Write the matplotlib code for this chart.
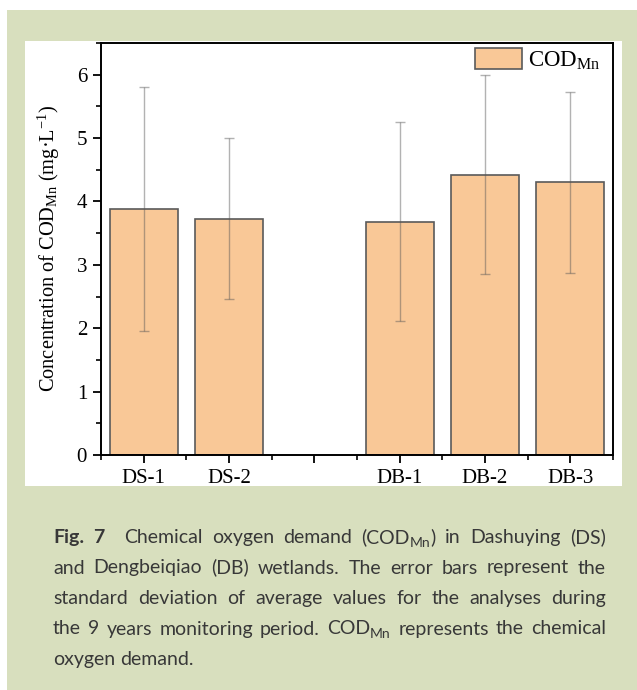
import matplotlib
matplotlib.use("Agg")
import matplotlib.pyplot as plt
from matplotlib.patches import Rectangle
from matplotlib.ticker import MultipleLocator, FixedLocator

# ---------------- data ----------------
sites = ["DS-1", "DS-2", "DB-1", "DB-2", "DB-3"]
positions = [1, 2, 4, 5, 6]
cod_mean = [3.88, 3.73, 3.68, 4.42, 4.30]
cod_sd = [1.93, 1.27, 1.57, 1.57, 1.43]
tick_positions = [1, 2, 3, 4, 5, 6]
tick_labels = ["DS-1", "DS-2", "", "DB-1", "DB-2", "DB-3"]

W, H = 637, 690
plt.rcParams["mathtext.fontset"] = "custom"
plt.rcParams["mathtext.rm"] = "Liberation Serif"
plt.rcParams["mathtext.it"] = "Liberation Serif:italic"
plt.rcParams["mathtext.bf"] = "Liberation Serif:bold"
plt.rcParams["font.family"] = ["Liberation Serif", "DejaVu Serif"]

fig = plt.figure(figsize=(W / 100, H / 100), dpi=100)
fig.patch.set_facecolor("white")


def fx(x):
    return x / W


def fy(y):
    return 1 - y / H


# green panel
fig.patches.append(Rectangle((fx(7), 0), 1 - fx(7), fy(10), transform=fig.transFigure,
                             facecolor="#d8dfbe", edgecolor="none", zorder=0))
# white chart area
fig.patches.append(Rectangle((fx(25), fy(486)), fx(622) - fx(25), fy(41) - fy(486),
                             transform=fig.transFigure, facecolor="white",
                             edgecolor="none", zorder=1))

ax = fig.add_axes([fx(101), fy(455), fx(613) - fx(101), fy(43) - fy(455)])
ax.set_zorder(2)
ax.set_facecolor("white")

ax.bar(positions, cod_mean, width=0.8, color="#f9c897", edgecolor="#5a5a5a",
       linewidth=1.2, label=r"COD$_{\mathrm{Mn}}$", zorder=2)
ax.errorbar(positions, cod_mean, yerr=cod_sd, fmt="none", ecolor="#555555",
            elinewidth=1.0, capsize=3.5, capthick=1.0, alpha=0.45, zorder=3)

ax.set_xlim(0.5, 6.5)
ax.set_ylim(0, 6.5)
ax.xaxis.set_major_locator(FixedLocator(tick_positions))
ax.set_xticklabels(tick_labels)
ax.xaxis.set_minor_locator(MultipleLocator(0.5))
ax.yaxis.set_major_locator(MultipleLocator(1))
ax.yaxis.set_minor_locator(MultipleLocator(0.5))

ax.tick_params(axis="both", which="major", direction="out", length=6, width=1.3,
               labelsize=15, pad=4, colors="black")
ax.tick_params(axis="both", which="minor", direction="out", length=3.5, width=1.2)
ax.tick_params(top=False, right=False, which="both")
for s in ax.spines.values():
    s.set_linewidth(1.4)
    s.set_color("black")

ax.set_ylabel(r"Concentration of COD$_{\mathrm{Mn}}$ (mg·L$^{-1}$)", fontsize=14.7)
ax.yaxis.set_label_coords(-0.076, 0.5)

leg = ax.legend(loc="upper left", bbox_to_anchor=((475 - 101) / 512, (455 - 48) / 412),
                frameon=False, fontsize=16.5, handlelength=2.05, handleheight=1.05,
                handletextpad=0.25, borderpad=0, borderaxespad=0)

# ---------------- caption (justified) ----------------
cap_font = ["Lato", "DejaVu Sans"]
cap_color = "#383838"
caption_lines = [
    [[("Fig.", "bold")], [("7", "bold"), ("  ", "bold")], [("Chemical", "normal")],
     [("oxygen", "normal")], [("demand", "normal")],
     [("(COD", "normal"), ("Mn", "sub"), (")", "normal")], [("in", "normal")],
     [("Dashuying", "normal")], [("(DS)", "normal")]],
    [[(w, "normal")] for w in "and Dengbeiqiao (DB) wetlands. The error bars represent the".split()],
    [[(w, "normal")] for w in "standard deviation of average values for the analyses during".split()],
    [[(w, "normal")] for w in "the 9 years monitoring period.".split()]
    + [[("COD", "normal"), ("Mn", "sub")]]
    + [[(w, "normal")] for w in "represents the chemical".split()],
    [[(w, "normal")] for w in "oxygen demand.".split()],
]
renderer = fig.canvas.get_renderer()


def seg_w(text, size, style):
    sz = size * 0.72 if style == "sub" else size
    wt = "bold" if style == "bold" else "normal"
    t = fig.text(0, 0, text, fontsize=sz, fontweight=wt, family=cap_font)
    w = t.get_window_extent(renderer).width
    t.remove()
    return w


x_left, x_right = 53, 606
base0, dy = 543, 30.5

# fit the font size so that the widest line (with ordinary spaces) fits the column
def natural_width(size):
    sp = seg_w("a a", size, "normal") - seg_w("aa", size, "normal")
    best = 0
    for line in caption_lines:
        wsum = sum(seg_w(t, size, s) for word in line for t, s in word)
        best = max(best, wsum + sp * (len(line) - 1))
    return best


cap_size = 10 * (x_right - x_left) * 0.97 / natural_width(10)
space_w = seg_w("a a", cap_size, "normal") - seg_w("aa", cap_size, "normal")

for li, line in enumerate(caption_lines):
    widths = [sum(seg_w(t, cap_size, s) for t, s in word) for word in line]
    last = li == len(caption_lines) - 1
    if last or len(line) == 1:
        gap = space_w
    else:
        gap = (x_right - x_left - sum(widths)) / (len(line) - 1)
    x = x_left
    yb = base0 + li * dy
    for word, wdt in zip(line, widths):
        xx = x
        for t, s in word:
            if s == "sub":
                fig.text(fx(xx), fy(yb + cap_size * 1.389 * 0.18), t,
                         fontsize=cap_size * 0.72, family=cap_font, color=cap_color,
                         va="baseline", ha="left")
            else:
                fig.text(fx(xx), fy(yb), t, fontsize=cap_size,
                         fontweight="bold" if s == "bold" else "normal",
                         family=cap_font, color=cap_color, va="baseline", ha="left")
            xx += seg_w(t, cap_size, s)
        x += wdt + gap

fig.savefig("out.png", dpi=100, facecolor=fig.get_facecolor())
